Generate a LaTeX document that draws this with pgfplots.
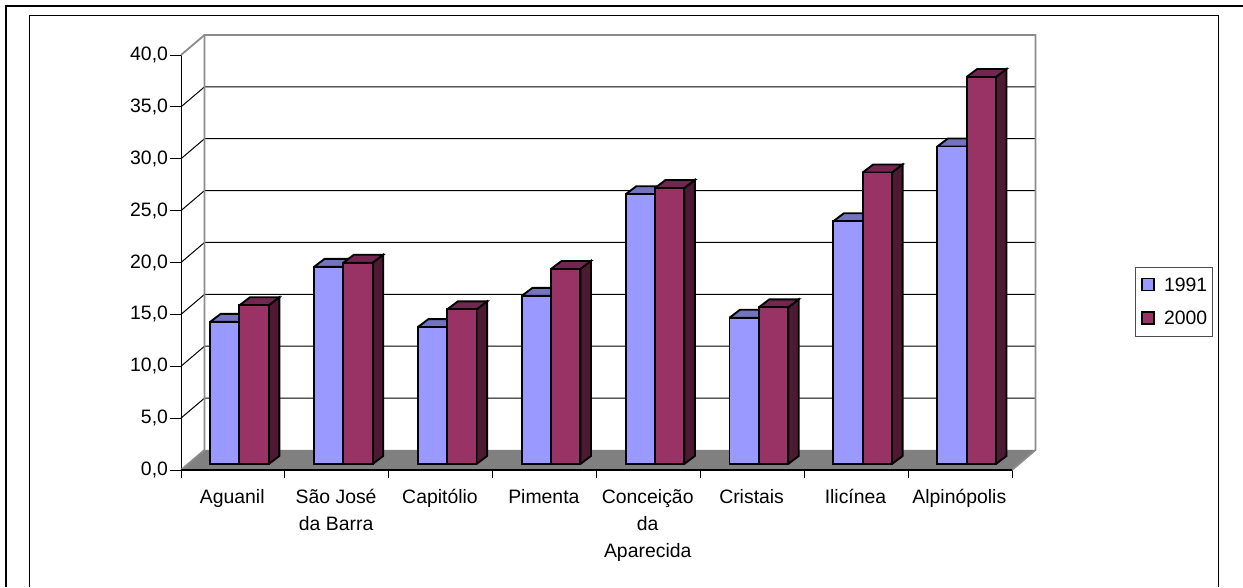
\documentclass[border=0pt]{standalone}
\usepackage{pgfplots}
\usepackage{pgfplotstable}
\usepackage{fontspec}
\setmainfont{Liberation Sans}
\pgfplotsset{compat=1.18}
\definecolor{blueF}{HTML}{9999FF}
\definecolor{blueT}{HTML}{7373BF}
\definecolor{blueS}{HTML}{4D4D80}
\definecolor{redF}{HTML}{993366}
\definecolor{redT}{HTML}{732650}
\definecolor{redS}{HTML}{4D1933}
\definecolor{wall}{HTML}{8C8C8C}
\definecolor{floorc}{HTML}{808080}
\pgfplotstableread{
x   yA    yB
0.5 13.7  15.3
1.5 19.0  19.4
2.5 13.2  14.9
3.5 16.2  18.8
4.5 26.0  26.6
5.5 14.1  15.1
6.5 23.4  28.1
7.5 30.6  37.3
}\chartdata
% depth of the wall (cat units, value units) and of the bars
\def\wx{0.2262}\def\wy{1.928}
\def\dX{0.102}\def\dY{0.771}
\def\bw{0.282}
\newcommand\faces[4]{% column, left offset from cell start, side colour, top colour
  \pgfplotsforeachungrouped \i in {0,...,7}{%
    \pgfplotstablegetelem{\i}{#1}\of\chartdata
    \pgfmathsetmacro\v{\pgfplotsretval}%
    \pgfmathsetmacro\xl{\i+#2}%
    \pgfmathsetmacro\xr{\xl+\bw}%
    \pgfmathsetmacro\xlb{\xl+\dX}%
    \pgfmathsetmacro\xrb{\xr+\dX}%
    \pgfmathsetmacro\vb{\v+\dY}%
    \addplot[forget plot,fill=#3,draw=black,line width=1.9pt,line join=miter,xshift=6.5pt,yshift=6pt]
      coordinates {(\xr,0)(\xr,\v)(\xrb,\vb)(\xrb,\dY)(\xr,0)};
    \addplot[forget plot,fill=#4,draw=black,line width=1.9pt,line join=miter,xshift=6.5pt,yshift=6pt]
      coordinates {(\xl,\v)(\xr,\v)(\xrb,\vb)(\xlb,\vb)(\xl,\v)};
  }%
}
\begin{document}
\begin{tikzpicture}[x=1pt,y=1pt]
\path[use as bounding box] (0,0) rectangle (1243,587);
\draw[black,line width=2.4pt] (1243,581) -- (6,581) -- (6,0);
\draw[black,line width=1pt] (29.5,0) -- (29.5,571.5) -- (1218.5,571.5) -- (1218.5,0);
\begin{axis}[
  scale only axis,width=831pt,height=415pt,
  at={(181pt,117pt)},anchor=south west,
  xmin=0,xmax=8,ymin=0,ymax=40,clip=false,
  axis lines*=left,axis line style={-,black,line width=1pt},
  xtick={0,...,8},x tick label as interval,
  xticklabels={Aguanil,{São José\\da Barra},Capitólio,Pimenta,{Conceição\\da\\Aparecida},Cristais,Ilicínea,Alpinópolis},
  ytick={0,5,...,40},
  tick align=outside,
  major tick length=10.5pt,
  xtick style={black,line width=1pt,/pgfplots/major tick length=8pt},
  ytick style={black,line width=1pt},
  tick label style={font=\fontsize{19.4}{27.2}\selectfont,text=black},
  x tick label style={align=center,yshift=-5pt,xshift=-0.7pt},
  y tick label style={xshift=1pt},
  /pgf/number format/.cd,fixed,fixed zerofill,precision=1,use comma,assume math mode=true,
  /pgfplots/.cd,
  legend style={at={(1.1484,0.4884)},anchor=north west,draw=black!70,line width=0.8pt,
    font=\fontsize{19.4}{22}\selectfont,row sep=14pt,inner xsep=3.5pt,inner ysep=8.5pt},
  legend cell align=left,
]
% floor
\addplot[forget plot,fill=floorc,draw=none] coordinates {(0,0)(\wx,\wy)(8.2262,\wy)(8,0)(0,0)};
% gridlines
\pgfplotsinvokeforeach{5,10,...,35}{
  \pgfmathsetmacro\yb{#1+\wy}
  \addplot[forget plot,black,line width=1pt] coordinates {(0,#1)(\wx,\yb)(8.2262,\yb)};
}
% walls
\addplot[forget plot,wall,line width=1.8pt] coordinates {(0,0)(\wx,\wy)(\wx,41.928)(8.2262,41.928)(8.2262,\wy)(8,0)};
\addplot[forget plot,wall,line width=1.8pt] coordinates {(0,40)(\wx,41.928)};
\addplot[forget plot,black,line width=1.4pt] coordinates {(0,0)(8,0)};
% bars
\faces{yA}{0.218}{blueS}{blueT}
\addplot[ybar,bar width=29.3pt,bar shift=-14.65pt,xshift=6.5pt,yshift=6pt,fill=blueF,draw=black,line width=1.9pt,
  legend image code/.code={\path (1pt,-5pt) (22pt,-5pt);\draw[fill=blueF,draw=black,line width=1.5pt] (3pt,-11pt) rectangle (15pt,1pt);}]
  table[x=x,y=yA]{\chartdata};
\addlegendentry{1991}
\faces{yB}{0.5}{redS}{redT}
\addplot[ybar,bar width=29.3pt,bar shift=14.65pt,xshift=6.5pt,yshift=6pt,fill=redF,draw=black,line width=1.9pt,
  legend image code/.code={\path (1pt,-5pt) (22pt,-5pt);\draw[fill=redF,draw=black,line width=1.5pt] (3pt,-11pt) rectangle (15pt,1pt);}]
  table[x=x,y=yB]{\chartdata};
\addlegendentry{2000}
\end{axis}
\end{tikzpicture}
\end{document}
